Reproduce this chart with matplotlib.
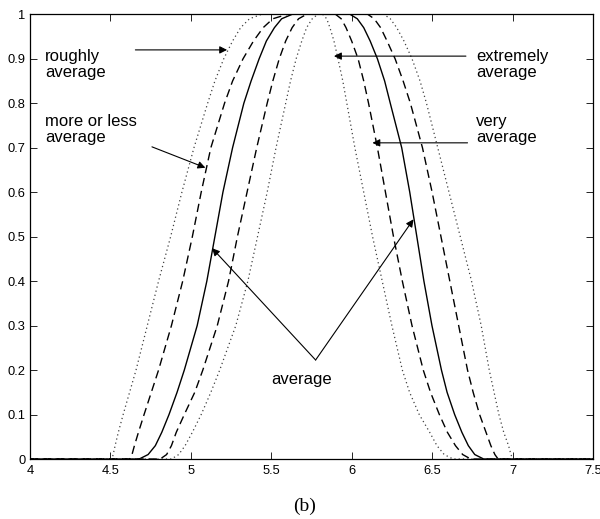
import numpy as np
import matplotlib
matplotlib.use("Agg")
import matplotlib.pyplot as plt

# membership grades at which the curve positions were read
grades = [0, 0.01, 0.03, 0.06, 0.1, 0.15, 0.2, 0.3, 0.4, 0.5,
          0.6, 0.7, 0.8, 0.85, 0.9, 0.94, 0.97, 0.99, 1.0]

# x position of each curve at those grades, rising side and falling side
roughly_up = [4.51, 4.518, 4.53, 4.55, 4.58, 4.62, 4.66, 4.73, 4.80, 4.875,
              4.945, 5.02, 5.105, 5.15, 5.205, 5.26, 5.31, 5.365, 5.44]
roughly_down = [7.0, 6.99, 6.975, 6.945, 6.915, 6.885, 6.855, 6.805, 6.745, 6.675,
                6.605, 6.535, 6.465, 6.425, 6.375, 6.325, 6.28, 6.24, 6.20]

moreless_up = [4.62, 4.635, 4.65, 4.675, 4.71, 4.755, 4.80, 4.88, 4.95, 5.01,
               5.065, 5.125, 5.21, 5.26, 5.325, 5.39, 5.45, 5.51, 5.60]
moreless_down = [6.91, 6.89, 6.865, 6.835, 6.795, 6.755, 6.72, 6.665, 6.61, 6.555,
                 6.50, 6.44, 6.365, 6.32, 6.27, 6.22, 6.18, 6.14, 6.10]

average_up = [4.68, 4.735, 4.78, 4.82, 4.865, 4.915, 4.96, 5.04, 5.10, 5.15,
              5.20, 5.26, 5.33, 5.375, 5.425, 5.47, 5.52, 5.565, 5.63]
average_down = [6.82, 6.765, 6.725, 6.685, 6.64, 6.593, 6.558, 6.499, 6.449, 6.405,
                6.361, 6.311, 6.24, 6.205, 6.16, 6.115, 6.075, 6.035, 5.99]

very_up = [4.81, 4.85, 4.88, 4.91, 4.96, 5.025, 5.075, 5.165, 5.235, 5.29,
           5.35, 5.41, 5.475, 5.51, 5.55, 5.59, 5.63, 5.67, 5.72]
very_down = [6.74, 6.69, 6.645, 6.595, 6.545, 6.49, 6.445, 6.375, 6.315, 6.26,
             6.21, 6.16, 6.105, 6.075, 6.04, 6.0, 5.965, 5.935, 5.90]

extremely_up = [4.88, 4.925, 4.965, 5.01, 5.065, 5.125, 5.18, 5.28, 5.355, 5.415,
                5.475, 5.53, 5.59, 5.62, 5.655, 5.69, 5.72, 5.755, 5.79]
extremely_down = [6.63, 6.575, 6.53, 6.485, 6.42, 6.36, 6.315, 6.25, 6.19, 6.13,
                  6.075, 6.02, 5.97, 5.945, 5.915, 5.89, 5.865, 5.845, 5.82]


def curve(up, down):
    xs = [4.0] + up + down[::-1] + [7.5]
    ys = [0.0] + grades + grades[::-1] + [0.0]
    return np.array(xs), np.array(ys)


fig = plt.figure(figsize=(6.0, 5.19), dpi=100)
ax = fig.add_axes([0.0497, 0.1156, 0.9387, 0.8568])

dot = (0, (1, 2.4))
dash = (0, (6, 3.5))

x, y = curve(roughly_up, roughly_down)
ax.plot(x, y, color='0.25', lw=0.9, linestyle=dot)
x, y = curve(moreless_up, moreless_down)
ax.plot(x, y, color='k', lw=1.0, linestyle=dash)
x, y = curve(average_up, average_down)
ax.plot(x, y, color='k', lw=1.0, linestyle='-')
x, y = curve(very_up, very_down)
ax.plot(x, y, color='k', lw=1.0, linestyle=dash)
x, y = curve(extremely_up, extremely_down)
ax.plot(x, y, color='0.25', lw=0.9, linestyle=dot)

ax.set_xlim(4, 7.5)
ax.set_ylim(0, 1)
ax.set_xticks(np.arange(4, 7.51, 0.5))
ax.set_xticklabels(['4', '4.5', '5', '5.5', '6', '6.5', '7', '7.5'])
ax.set_yticks(np.arange(0, 1.01, 0.1))
ax.set_yticklabels(['0', '0.1', '0.2', '0.3', '0.4', '0.5', '0.6', '0.7', '0.8', '0.9', '1'])
ax.tick_params(direction='in', length=5, width=0.6, top=True, right=True,
               labelsize=9.3, pad=4)
ax.tick_params(axis='y', pad=3)
for lab in ax.get_xticklabels() + ax.get_yticklabels():
    lab.set_family('Liberation Sans')
for s in ax.spines.values():
    s.set_linewidth(0.9)

tfont = dict(family='Liberation Sans', fontsize=12, va='top', ha='left', linespacing=1.05)
arr = dict(arrowstyle='-|>', color='k', lw=0.8, mutation_scale=11, shrinkA=0, shrinkB=0)

ax.text(4.095, 0.922, 'roughly\naverage', **tfont)
ax.annotate('', xy=(5.226, 0.92), xytext=(4.656, 0.92), arrowprops=arr)

ax.text(4.095, 0.775, 'more or less\naverage', **tfont)
ax.annotate('', xy=(5.091, 0.655), xytext=(4.759, 0.702), arrowprops=arr)

ax.text(6.772, 0.922, 'extremely\naverage', **tfont)
ax.annotate('', xy=(5.89, 0.906), xytext=(6.71, 0.906), arrowprops=arr)

ax.text(6.772, 0.775, 'very\naverage', **tfont)
ax.annotate('', xy=(6.129, 0.711), xytext=(6.72, 0.711), arrowprops=arr)

ax.text(5.69, 0.178, 'average', family='Liberation Sans', fontsize=12,
        ha='center', va='center')
ax.annotate('', xy=(5.133, 0.474), xytext=(5.776, 0.2226), arrowprops=arr)
ax.annotate('', xy=(6.384, 0.539), xytext=(5.776, 0.2226), arrowprops=arr)

fig.text(0.507, 0.025, '(b)', family='Liberation Serif', fontsize=14,
         ha='center', va='center')

fig.savefig('out.png', dpi=100)
